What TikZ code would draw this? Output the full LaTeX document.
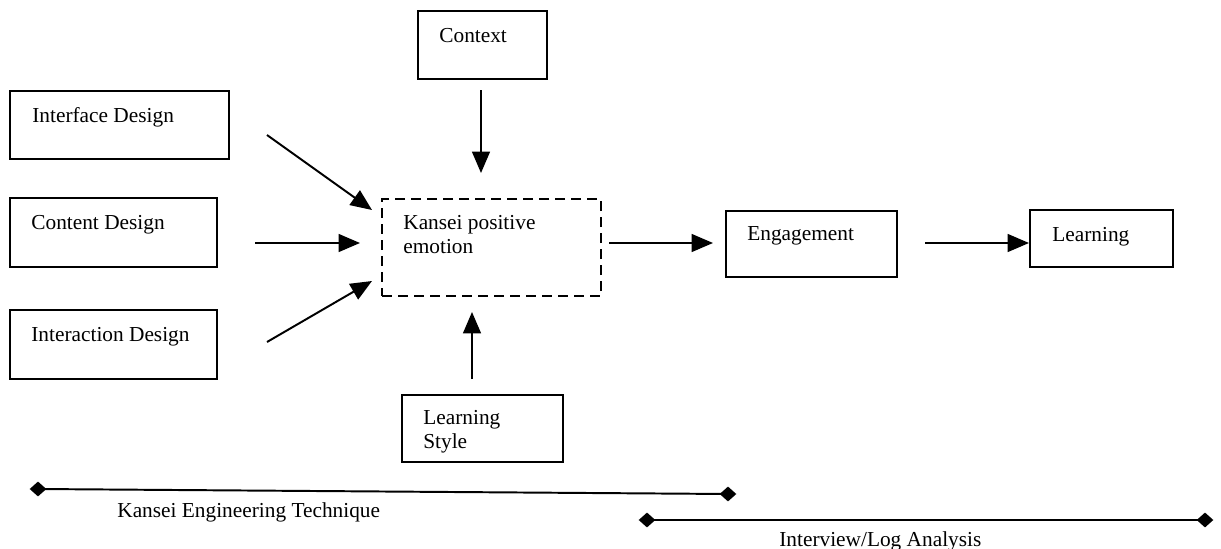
\documentclass[tikz,border=0pt]{standalone}
\usepackage{fontspec}
\setmainfont{Liberation Serif}
\usetikzlibrary{arrows.meta,fit,shapes.geometric}
\begin{document}
\begin{tikzpicture}[x=0.5625pt,y=-0.5625pt,
  box/.style={draw,line width=1.1pt,inner sep=0pt},
  dbox/.style={box,dash pattern=on 5.5pt off 3.5pt},
  lbl/.style={anchor=base west,inner sep=0pt,font=\fontsize{12}{13.5}\selectfont},
  arr/.style={line width=1.1pt,-{Triangle[length=12pt,width=10pt]}},
  dia/.style={diamond,fill=black,inner sep=0pt,minimum width=9.5pt,minimum height=8.5pt},
  bar/.style={line width=1.1pt}]
\useasboundingbox (0,0) rectangle (1221,549);
% boxes
\node[box,fit={(418,11)(547,79)}] (ctx) {};
\node[box,fit={(10,91)(229,159)}] (ifd) {};
\node[box,fit={(10,198)(217,267)}] (cnd) {};
\node[box,fit={(10,310)(217,379)}] (ind) {};
\node[dbox,fit={(382,199)(601,296)}] (kan) {};
\node[box,fit={(726,211)(897,277)}] (eng) {};
\node[box,fit={(1030,210)(1173,267)}] (lrn) {};
\node[box,fit={(402,395)(563,462)}] (lst) {};
% labels
\node[lbl] (tctx) at (439,42) {Context};
\node[lbl] (tifd) at (32,122) {Interface Design};
\node[lbl] (tcnd) at (31,229) {Content Design};
\node[lbl] (tind) at (31,341) {Interaction Design};
\node[lbl,align=left] (tkan) at (403,253) {Kansei positive\\emotion};
\node[lbl] (teng) at (747,240) {Engagement};
\node[lbl] (tlrn) at (1052,241) {Learning};
\node[lbl,align=left] (tlst) at (423,448) {Learning\\Style};
% arrow end points
\coordinate (c1) at (481,90);  \coordinate (c2) at (481,173);
\coordinate (i1) at (267,135); \coordinate (i2) at (372,210);
\coordinate (n1) at (255,243); \coordinate (n2) at (360,243);
\coordinate (r1) at (267,342); \coordinate (r2) at (372,281);
\coordinate (s1) at (472,379); \coordinate (s2) at (472,312);
\coordinate (k1) at (609,243); \coordinate (k2) at (713,243);
\coordinate (e1) at (925,243);
\draw[arr] (c1) -- (c2);
\draw[arr] (i1) -- (i2);
\draw[arr] (n1) -- (n2);
\draw[arr] (r1) -- (r2);
\draw[arr] (s1) -- (s2);
\draw[arr] (k1) -- (k2);
\draw[arr] (e1) -- (lrn.west |- e1);
% bottom bars
\node[dia] (d1) at (38,489) {};
\node[dia] (d2) at (728,494) {};
\node[dia] (d3) at (647,520) {};
\node[dia] (d4) at (1205,520) {};
\draw[bar] (d1.center) -- (d2.center);
\draw[bar] (d3.center) -- (d4.center);
\node[lbl] (tket) at (117,517) {Kansei Engineering Technique};
\node[lbl] (tila) at (779,546) {Interview/Log Analysis};
\end{tikzpicture}
\end{document}
